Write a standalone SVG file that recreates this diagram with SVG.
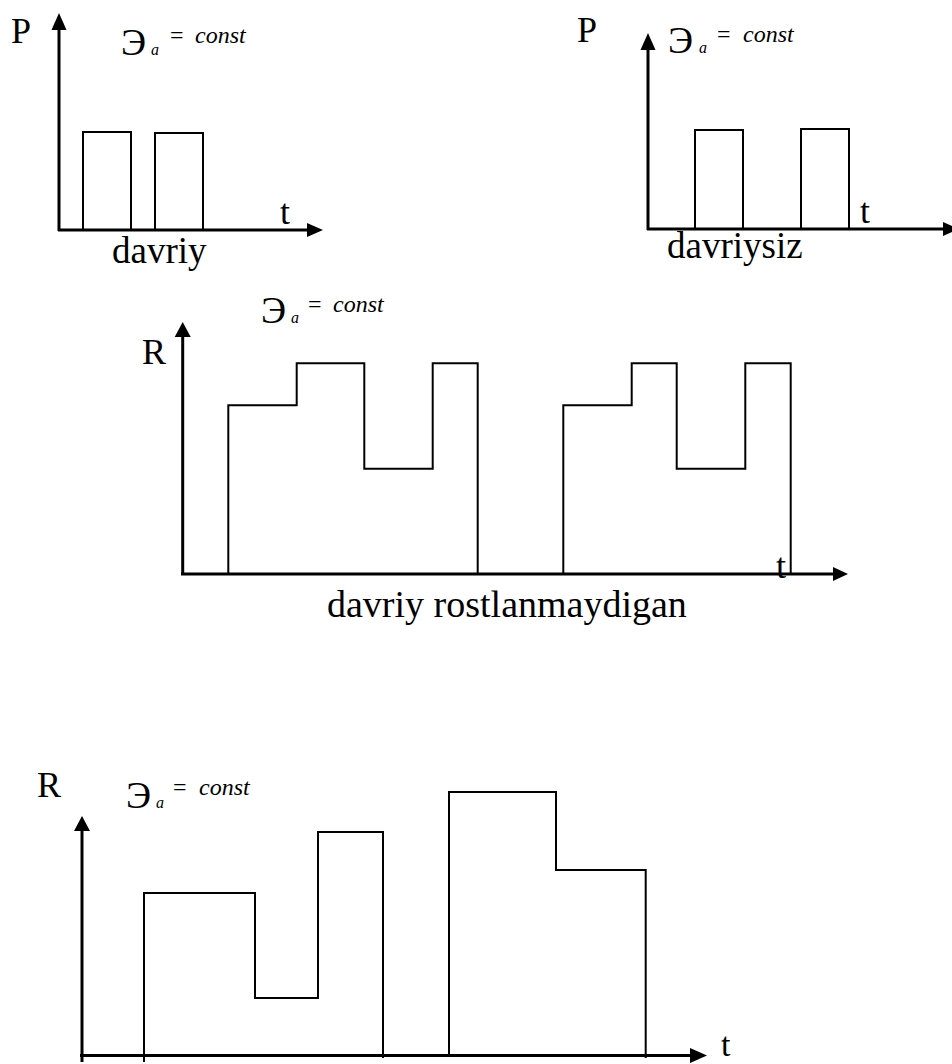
<svg xmlns="http://www.w3.org/2000/svg" width="952" height="1064" viewBox="0 0 952 1064">
<style>
.t{font-family:"Liberation Serif","Times New Roman",serif;fill:#000}
.big{font-size:38px}
.sub{font-size:16px;font-style:italic}
.eq{font-size:24px}
.c{font-size:24px;font-style:italic}
.lab{font-size:36px}
.cap{font-size:37px}
.tt{font-size:36px}
.ax{stroke:#000;stroke-width:3;fill:none}
.sh{stroke:#000;stroke-width:2;fill:none}
.ah{fill:#000}
</style>
<rect width="952" height="1064" fill="#fff"/>
<g id="chart1">
  <text class="t lab" x="11" y="43">P</text>
  <g id="c1-label">
    <text class="t big" x="121" y="55">Э</text>
    <text class="t sub" x="151" y="55">a</text>
    <text class="t eq" x="170" y="43">=</text>
    <text class="t c" x="195" y="43">const</text>
  </g>
  <g id="c1-axes">
    <line class="ax" x1="59" y1="231" x2="59" y2="28"/>
    <polygon class="ah" points="59,13 51.5,30 66.5,30"/>
    <line class="ax" x1="58" y1="230" x2="309" y2="230"/>
    <polygon class="ah" points="323,230 307,223 307,237"/>
  </g>
  <path class="sh" d="M83,230 V132 H131 V230"/>
  <path class="sh" d="M155,230 V133 H203 V230"/>
  <text class="t tt" x="280" y="224">t</text>
  <text class="t cap" x="112" y="263">davriy</text>
</g>
<g id="chart2">
  <text class="t lab" x="577" y="42">P</text>
  <g id="c2-label">
    <text class="t big" x="668" y="53">Э</text>
    <text class="t sub" x="699" y="53">a</text>
    <text class="t eq" x="717" y="42">=</text>
    <text class="t c" x="743" y="42">const</text>
  </g>
  <g id="c2-axes">
    <line class="ax" x1="648" y1="230" x2="648" y2="48"/>
    <polygon class="ah" points="648,33 640.5,50 655.5,50"/>
    <line class="ax" x1="647" y1="229" x2="945" y2="229"/>
    <polygon class="ah" points="959,229 943,222 943,236"/>
  </g>
  <path class="sh" d="M695,229 V130 H743 V229"/>
  <path class="sh" d="M801,229 V129 H849 V229"/>
  <text class="t tt" x="860" y="223">t</text>
  <text class="t cap" x="667" y="258">davriysiz</text>
</g>
<g id="chart3">
  <g id="c3-label">
    <text class="t big" x="261" y="323">Э</text>
    <text class="t sub" x="291" y="323">a</text>
    <text class="t eq" x="308" y="312">=</text>
    <text class="t c" x="333" y="312">const</text>
  </g>
  <text class="t lab" x="142" y="364">R</text>
  <g id="c3-axes">
    <line class="ax" x1="182.7" y1="575" x2="182.7" y2="335"/>
    <polygon class="ah" points="182.7,322 174.7,337 190.7,337"/>
    <line class="ax" x1="181" y1="574" x2="835" y2="574"/>
    <polygon class="ah" points="848,574 833,567 833,581"/>
  </g>
  <path class="sh" d="M228.3,574 V405.3 H296.7 V363.3 H364.3 V468.7 H432.7 V363.3 H477.7 V574"/>
  <path class="sh" d="M563.3,574 V405.3 H631.7 V363.3 H676.7 V468.7 H745.3 V363.3 H790.7 V574"/>
  <text class="t tt" x="776" y="578">t</text>
  <text class="t" style="font-size:38px" x="327" y="617">davriy rostlanmaydigan</text>
</g>
<g id="chart4">
  <text class="t lab" x="37" y="797">R</text>
  <g id="c4-label">
    <text class="t big" x="126" y="808">Э</text>
    <text class="t sub" x="156" y="808">a</text>
    <text class="t eq" x="173" y="795">=</text>
    <text class="t c" x="199" y="795">const</text>
  </g>
  <g id="c4-axes">
    <line class="ax" x1="82" y1="1062" x2="82" y2="829"/>
    <polygon class="ah" points="82,816 74,831 90,831"/>
    <line class="ax" x1="80" y1="1055.5" x2="692" y2="1055.5"/>
    <polygon class="ah" points="707,1055.5 690,1048 690,1063"/>
  </g>
  <path class="sh" d="M144,1062 V893 H255 V998 H318 V832 H383 V1058"/>
  <path class="sh" d="M449,1056 V792 H556 V870 H645.7 V1058"/>
  <text class="t" style="font-size:34px" x="721" y="1056">t</text>
</g>
</svg>
